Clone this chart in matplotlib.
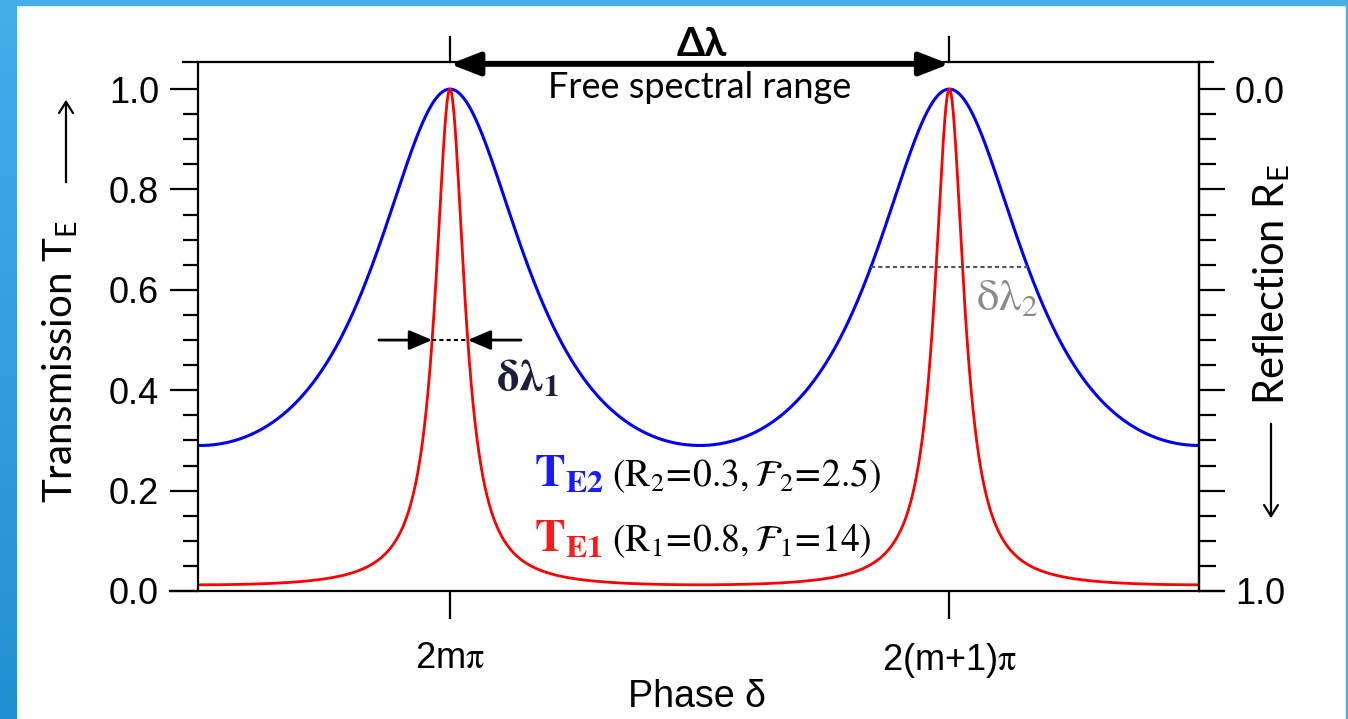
import numpy as np
import matplotlib
matplotlib.use("Agg")
import matplotlib.pyplot as plt
from matplotlib.lines import Line2D
from matplotlib.patches import Rectangle, FancyArrowPatch
from matplotlib.colors import LinearSegmentedColormap

# ---------------- data ----------------
R1 = 0.8          # mirror reflectivity, sharp curve T_E1
R2 = 0.3          # mirror reflectivity, broad curve T_E2
finesse1 = "14"
finesse2 = "2.5"
phase_ticks = [0.0, 2 * np.pi]
phase_ticklabels = [r"2m$\mathrm{\pi}$", r"2(m+1)$\mathrm{\pi}$"]
T_major = [0.0, 0.2, 0.4, 0.6, 0.8, 1.0]
R_major = [0.0, 0.2, 0.4, 0.6, 0.8, 1.0]
R_labels = ["0.0", "", "", "", "", "1.0"]
fwhm2_level = 0.646   # level of the grey δλ2 marker line

plt.rcParams["mathtext.fontset"] = "stix"

W, H = 1348, 719
fig = plt.figure(figsize=(W / 100, H / 100), dpi=100)
fig.patch.set_facecolor("white")


def fx(x):
    return x / W


def fy(y):
    return 1 - y / H


# ---- blue frame of the slide ----
bg = fig.add_axes([0, 0, 17 / W, 1])
cmap = LinearSegmentedColormap.from_list("g", ["#43aeea", "#2190d2"])
bg.imshow(np.linspace(0, 1, 256).reshape(-1, 1), aspect="auto", cmap=cmap,
          extent=[0, 1, 0, 1], origin="upper")
bg.set_axis_off()
fig.patches.append(Rectangle((0, fy(5)), 1, 5 / H, transform=fig.transFigure,
                             color="#42aeea", zorder=0))
fig.patches.append(Rectangle((fx(1346), 0), 2 / W, 1, transform=fig.transFigure,
                             color="#42aeea", zorder=0))

# ---- main axes ----
L, Rr, T, B = 198, 1199, 62, 591
ax = fig.add_axes([fx(L), fy(B), (Rr - L) / W, (B - T) / H])
x0, x1 = -3.17, 3 * np.pi
phase = np.linspace(x0, x1, 3000)


def airy(R):
    F = 4 * R / (1 - R) ** 2
    return 1 / (1 + F * np.sin(phase / 2) ** 2)


T1 = airy(R1)
T2 = airy(R2)

ax.plot(phase, T2, color="#0000ff", lw=2.2, solid_capstyle="butt")
ax.plot(phase, T1, color="#ff0000", lw=2.0, solid_capstyle="butt")
ax.set_xlim(x0, x1)
ax.set_ylim(0, 1.054)

for s in ["top", "bottom"]:
    ax.spines[s].set_visible(False)
for s in ["left", "right"]:
    ax.spines[s].set_linewidth(1.6)

ax.set_yticks(T_major)
ax.set_yticklabels([f"{v:.1f}" for v in T_major])
ax.set_yticks(np.arange(0, 1.0001, 0.05), minor=True)
ax.tick_params(axis="y", which="major", direction="out", length=20, width=1.6,
               labelsize=26, pad=8)
ax.tick_params(axis="y", which="minor", direction="out", length=11, width=1.6)
for lab in ax.get_yticklabels():
    lab.set_fontfamily("Liberation Sans")

ax.set_xticks(phase_ticks)
ax.set_xticklabels(phase_ticklabels, fontfamily="Liberation Sans")
ax.tick_params(axis="x", direction="out", length=20, width=1.6, labelsize=26,
               pad=16)

ax2 = ax.twinx()
ax2.set_ylim(1.0, 1 - 1.054)
for s in ["top", "bottom", "left"]:
    ax2.spines[s].set_visible(False)
ax2.spines["right"].set_linewidth(1.6)
ax2.set_yticks(R_major)
ax2.set_yticklabels(R_labels, fontfamily="Liberation Sans")
ax2.set_yticks(np.arange(0, 1.0001, 0.05), minor=True)
ax2.tick_params(axis="y", which="major", direction="out", length=19, width=1.6,
                labelsize=26, pad=7)
ax2.tick_params(axis="y", which="minor", direction="out", length=12, width=1.6)

# extended top / bottom frame lines
fig.add_artist(Line2D([fx(183), fx(1213)], [fy(62), fy(62)], color="black",
                      lw=1.6, transform=fig.transFigure))
fig.add_artist(Line2D([fx(170), fx(1223)], [fy(591), fy(591)], color="black",
                      lw=1.6, transform=fig.transFigure))

# axis labels
fig.text(fx(60), fy(362), r"Transmission T$_{\mathregular{E}}$", rotation=90,
         ha="center", va="center", fontsize=29, fontfamily="Lato")
fig.add_artist(FancyArrowPatch(
    (fx(66), fy(185)), (fx(66), fy(97)), transform=fig.transFigure,
    arrowstyle="->,head_length=8,head_width=5", lw=1.6, color="black",
    mutation_scale=1))
fig.text(fx(1272), fy(285), r"Reflection R$_{\mathregular{E}}$", rotation=90,
         ha="center", va="center", fontsize=30, fontfamily="Lato")
fig.add_artist(FancyArrowPatch(
    (fx(1271), fy(421)), (fx(1271), fy(521)), transform=fig.transFigure,
    arrowstyle="->,head_length=8,head_width=5", lw=1.6, color="black",
    mutation_scale=1))
fig.text(fx(697), fy(697), "Phase δ", ha="center", va="center", fontsize=27,
         fontfamily="Liberation Sans")

# ---- free spectral range annotation ----
for xp in phase_ticks:
    ax.plot([xp, xp], [1.054, 1.104], color="black", lw=1.6, clip_on=False)
ax.annotate("", xy=(phase_ticks[0], 1.050), xytext=(phase_ticks[1], 1.050),
            arrowprops=dict(arrowstyle="<|-|>,head_length=0.9,head_width=0.35",
                            lw=4, color="black", shrinkA=0, shrinkB=0,
                            mutation_scale=20),
            annotation_clip=False)
fig.text(fx(702), fy(44), "Δλ", ha="center", va="center", fontsize=29,
         fontweight="bold", fontfamily="Lato")
fig.text(fx(700), fy(88), "Free spectral range", ha="center", va="center",
         fontsize=26, fontfamily="Lato")

# ---- δλ1 marker ----
yl1 = 0.5
half1 = 2 * np.arcsin(np.sqrt((1 / yl1 - 1) / (4 * R1 / (1 - R1) ** 2)))
for sgn in (-1, 1):
    ax.annotate("", xy=(sgn * half1, yl1), xytext=(sgn * (half1 + 0.67), yl1),
                arrowprops=dict(arrowstyle="-|>,head_length=0.7,head_width=0.3",
                                lw=2, color="black", shrinkA=0, shrinkB=0,
                                mutation_scale=20))
ax.plot([-half1, half1], [yl1, yl1], color="black", lw=1.5, ls=(0, (2, 1.5)))
fig.text(fx(528), fy(378), r"$\mathbf{\delta\lambda}_{\mathbf{1}}$",
         ha="center", va="center", fontsize=32, color="#1c1c3c")

# ---- δλ2 marker ----
half2 = 2 * np.arcsin(np.sqrt((1 / fwhm2_level - 1) / (4 * R2 / (1 - R2) ** 2)))
ax.plot([2 * np.pi - half2, 2 * np.pi + half2], [fwhm2_level, fwhm2_level],
        color="#555555", lw=1.5, ls=(0, (2, 1.5)))
fig.text(fx(1007), fy(298), r"$\mathrm{\delta\lambda}_{2}$", ha="center",
         va="center", fontsize=32, color="#8a8a8a")

# ---- legend text ----
fig.text(fx(534), fy(486), r"$\mathbf{T}_{\mathbf{E2}}$", ha="left",
         va="baseline", fontsize=33, color="#1a1aff")
fig.text(fx(612), fy(486),
         r"$(\mathrm{R}_2\!=\!0.3,\mathcal{F}_2\!=\!" + finesse2 + ")$",
         ha="left", va="baseline", fontsize=27, color="black")
fig.text(fx(534), fy(551), r"$\mathbf{T}_{\mathbf{E1}}$", ha="left",
         va="baseline", fontsize=33, color="#ff1a1a")
fig.text(fx(612), fy(551),
         r"$(\mathrm{R}_1\!=\!0.8,\mathcal{F}_1\!=\!" + finesse1 + ")$",
         ha="left", va="baseline", fontsize=27, color="black")

fig.savefig("out.png", dpi=100)
